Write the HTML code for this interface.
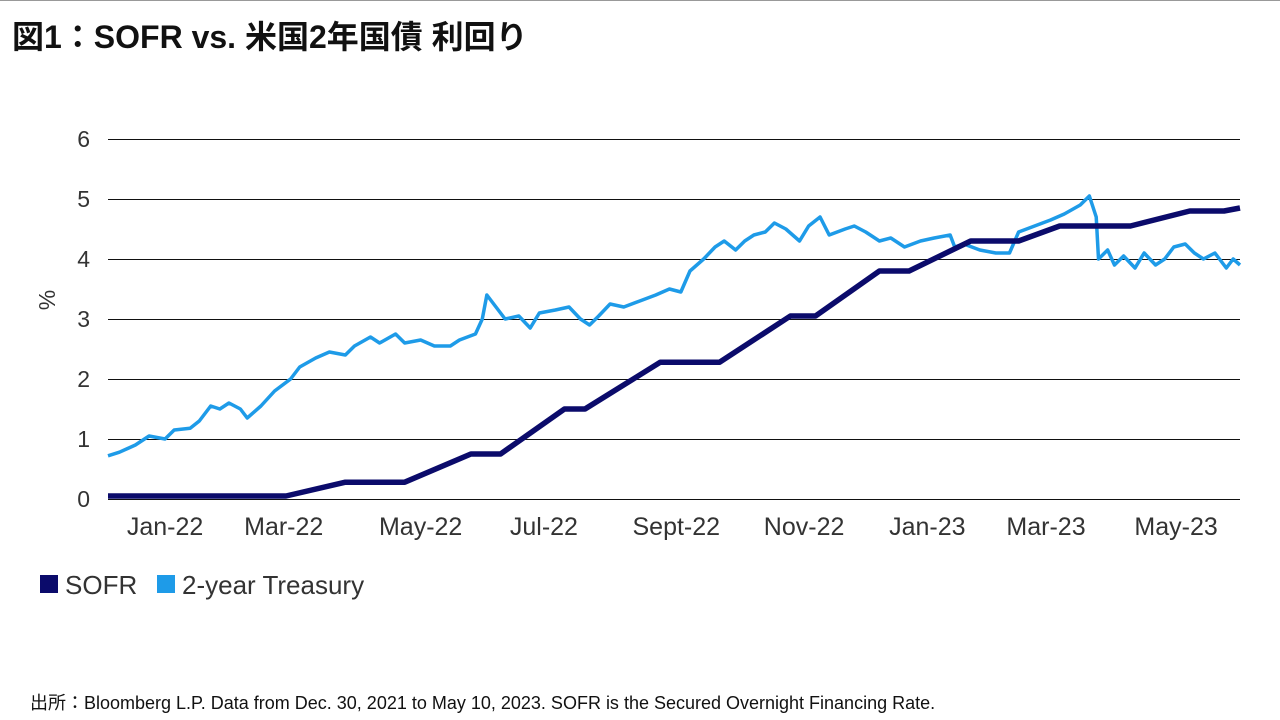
<!DOCTYPE html>
<html><head><meta charset="utf-8">
<style>
body{margin:0;background:#fff;width:1280px;height:720px;overflow:hidden;font-family:"Liberation Sans","Noto Sans CJK JP",sans-serif;}
#title{position:absolute;left:12px;top:12px;font-size:32px;font-weight:bold;color:#111;}
#foot{position:absolute;left:30px;top:689px;font-size:18px;color:#111;}
svg{position:absolute;left:0;top:0;}
</style></head><body>
<div id="title">図1：SOFR vs. 米国2年国債 利回り</div>
<svg id="chart" width="1280" height="720"></svg>
<div id="foot">出所：Bloomberg L.P. Data from Dec. 30, 2021 to May 10, 2023. SOFR is the Secured Overnight Financing Rate.</div>
<script>
const yTicks=[0,1,2,3,4,5,6];
const xLabels=["Jan-22","Mar-22","May-22","Jul-22","Sept-22","Nov-22","Jan-23","Mar-23","May-23"];
const xLabelDays=[25,77,137,191,249,305,359,411,468];
const sofrDays=[0,78,104,130,159,172,200,209,242,268,299,310,338,351,378,399,417,448,474,489,496];
const sofrVals=[0.05,0.05,0.28,0.28,0.75,0.75,1.5,1.5,2.28,2.28,3.05,3.05,3.8,3.8,4.3,4.3,4.55,4.55,4.8,4.8,4.85];
const tsyDays=[0,5,12,18,25,29,36,40,45,49,53,58,61,67,73,80,84,91,97,104,108,115,119,126,130,137,143,150,154,161,164,166,170,174,180,185,189,196,202,207,211,215,220,226,233,240,246,251,255,261,266,270,275,279,283,288,292,297,303,307,312,316,323,327,332,338,343,349,356,362,369,371,375,382,389,395,399,406,413,419,426,430,433,434,438,441,445,450,454,459,463,467,472,476,480,485,490,493,496];
const tsyVals=[0.72,0.78,0.9,1.05,1.0,1.15,1.18,1.3,1.55,1.5,1.6,1.5,1.35,1.55,1.8,2.0,2.2,2.35,2.45,2.4,2.55,2.7,2.6,2.75,2.6,2.65,2.55,2.55,2.65,2.75,3.0,3.4,3.2,3.0,3.05,2.85,3.1,3.15,3.2,3.0,2.9,3.05,3.25,3.2,3.3,3.4,3.5,3.45,3.8,4.0,4.2,4.3,4.15,4.3,4.4,4.45,4.6,4.5,4.3,4.55,4.7,4.4,4.5,4.55,4.45,4.3,4.35,4.2,4.3,4.35,4.4,4.2,4.25,4.15,4.1,4.1,4.45,4.55,4.65,4.75,4.9,5.05,4.7,4.0,4.15,3.9,4.05,3.85,4.1,3.9,4.0,4.2,4.25,4.1,4.0,4.1,3.85,4.0,3.9];
const NS="http://www.w3.org/2000/svg";
const svg=document.getElementById('chart');
const X0=108,X1=1240,Y0=499,Y1=139,DMAX=496,VMAX=6;
const x=d=>X0+(X1-X0)*d/DMAX;
const y=v=>Y0-(Y0-Y1)*v/VMAX;
function mk(t,a){const e=document.createElementNS(NS,t);for(const k in a)e.setAttribute(k,a[k]);svg.appendChild(e);return e;}
yTicks.forEach(v=>{
 const l=mk('line',{x1:X0,x2:X1,y1:y(v)+0.5,y2:y(v)+0.5,stroke:'#111','stroke-width':1});
 
 
 const t=mk('text',{x:90,y:y(v)+8,'text-anchor':'end','font-size':23,fill:'#333'});
 t.textContent=v;
 
 
});
const yt=mk('text',{x:0,y:0,'font-size':23,fill:'#333','text-anchor':'middle',transform:'translate(55,300) rotate(-90)'});
yt.textContent='%';


xLabels.forEach((s,i)=>{
 const t=mk('text',{x:x(xLabelDays[i]),y:535,'text-anchor':'middle','font-size':25,fill:'#333'});
 t.textContent=s;
 
 
});
function line(ds,vs,col,w,name){
 const p=mk('polyline',{points:ds.map((d,i)=>x(d)+','+y(vs[i])).join(' '),fill:'none',stroke:col,'stroke-width':w,'stroke-linejoin':'round'});
 
 
}
line(tsyDays,tsyVals,'#1e9be8',3.5,'treasury-line');
line(sofrDays,sofrVals,'#0b0b6b',5.5,'sofr-line');
const leg=[['SOFR','#0b0b6b',40],['2-year Treasury','#1e9be8',157]];
leg.forEach(([n,c,lx])=>{
 const r=mk('rect',{x:lx,y:575,width:18,height:18,fill:c});
 
 
 const t=mk('text',{x:lx+25,y:594,'font-size':26,fill:'#333'});
 t.textContent=n;
 
 
});
const tl=mk('line',{x1:0,x2:1280,y1:0.5,y2:0.5,stroke:'#999','stroke-width':1});


</script>
</body></html>
